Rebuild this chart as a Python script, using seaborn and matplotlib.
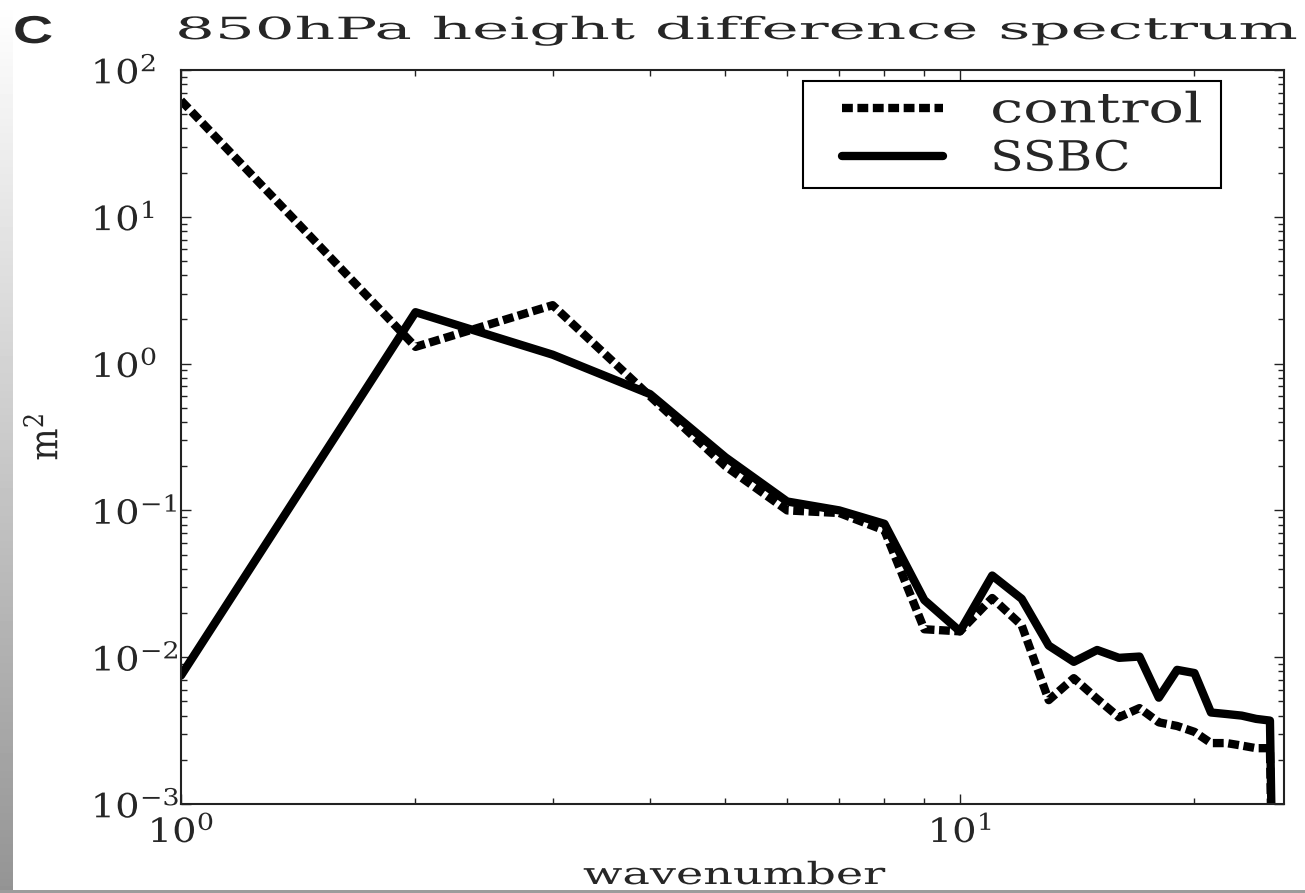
import numpy as np
import pandas as pd
import matplotlib
matplotlib.use("Agg")
import matplotlib.pyplot as plt
import seaborn as sns
from matplotlib.patheffects import AbstractPathEffect
from matplotlib.transforms import Affine2D
from matplotlib.lines import Line2D
from matplotlib.legend_handler import HandlerLine2D
from matplotlib.ticker import NullFormatter
from matplotlib.patches import Rectangle

sns.set_theme(style="ticks")
plt.rcParams["font.family"] = ["DejaVu Serif"]
plt.rcParams["mathtext.fontset"] = "dejavuserif"

# wavenumber spectrum values (m^2)
WAVENUMBER = list(range(1, 27))
CONTROL = [62.0, 1.30, 2.50, 0.60, 0.20, 0.100, 0.096, 0.073, 0.0155, 0.0150,
           0.0253, 0.0165, 0.0051, 0.0072, 0.0052, 0.0039, 0.0045, 0.0036,
           0.0034, 0.0031, 0.0026, 0.0026, 0.0025, 0.0024, 0.0024, 1e-8]
SSBC = [0.0075, 2.24, 1.15, 0.62, 0.23, 0.115, 0.100, 0.081, 0.0245, 0.0150,
        0.0360, 0.0250, 0.0120, 0.0093, 0.0112, 0.0099, 0.0101, 0.0053,
        0.0082, 0.0078, 0.0042, 0.0041, 0.0040, 0.0038, 0.0037, 1e-8]
LABELS = ["control", "SSBC"]

TITLE = "850hPa height difference spectrum"
XTICKS = [1, 10]
XTICKLABELS = [r"$10^{0}$", r"$10^{1}$"]
YTICKS = [1e-3, 1e-2, 1e-1, 1e0, 1e1, 1e2]
YTICKLABELS = [r"$10^{-3}$", r"$10^{-2}$", r"$10^{-1}$", r"$10^{0}$", r"$10^{1}$", r"$10^{2}$"]

W, H = 1305, 893


class Stretch(AbstractPathEffect):
    """widen text horizontally (the original has very loose lettering)"""

    def __init__(self, sx, anchor="left"):
        super().__init__()
        self.sx = sx
        self.anchor = anchor

    def draw_path(self, renderer, gc, tpath, affine, rgbFace=None):
        xs = tpath.vertices[:, 0]
        if len(xs) == 0:
            return
        x0 = {"left": xs.min(), "center": 0.5 * (xs.min() + xs.max()),
              "right": xs.max()}[self.anchor]
        pre = Affine2D().translate(-x0, 0).scale(self.sx, 1).translate(x0, 0)
        renderer.draw_path(gc, tpath, pre + affine, rgbFace)


def fit(txt, target, anchor, renderer, along="width"):
    bb = txt.get_window_extent(renderer)
    sx = target / (bb.width if along == "width" else bb.height)
    txt.set_path_effects([Stretch(sx, anchor)])
    return sx


fig = plt.figure(figsize=(W / 100, H / 100), dpi=100)
ax = fig.add_axes([181 / W, 1 - 804 / H, 1103 / W, 734 / H])

sns.lineplot(x=WAVENUMBER, y=CONTROL, ax=ax, color="black", lw=6,
             linestyle=(0, (1.3, 0.55)), dash_capstyle="butt",
             label=LABELS[0], legend=False, errorbar=None)
sns.lineplot(x=WAVENUMBER, y=SSBC, ax=ax, color="black", lw=6,
             label=LABELS[1], legend=False, errorbar=None)

ax.set(xscale="log", yscale="log")
ax.set_xlim(1, 26.06)
ax.set_ylim(1e-3, 1e2)
ax.set_xlabel("")
ax.set_ylabel("")
ax.set_xticks(XTICKS, labels=XTICKLABELS)
ax.set_yticks(YTICKS, labels=YTICKLABELS)
ax.xaxis.set_minor_formatter(NullFormatter())
ax.yaxis.set_minor_formatter(NullFormatter())
ax.tick_params(which="both", direction="in", top=True, right=True,
               color="#222222", labelsize=24, width=1.0)
ax.tick_params(which="major", length=7.5)
ax.tick_params(which="minor", length=4)
ax.tick_params(axis="x", pad=8)
ax.tick_params(axis="y", pad=65)
for lbl in ax.get_yticklabels():
    lbl.set_horizontalalignment("left")
for sp in ax.spines.values():
    sp.set_linewidth(1.5)
    sp.set_color("#222222")

leg = ax.legend(handles=ax.get_lines()[:2], labels=LABELS,
                loc="upper left", bbox_to_anchor=(0.564, 0.8406, 0.379, 0.1444),
                mode="expand", borderaxespad=0, fontsize=30, borderpad=0.2,
                labelspacing=0.15, handlelength=3.16, handletextpad=1.13,
                handler_map={Line2D: HandlerLine2D(xpad=0.74)},
                frameon=True, fancybox=False, framealpha=1, edgecolor="black")
leg.get_frame().set_linewidth(1.5)

title = fig.text(175 / W, 1 - 39 / H, TITLE, ha="left", va="baseline", fontsize=22)
panel = fig.text(13 / W, 1 - 43 / H, "C", ha="left", va="baseline", fontsize=28,
                 fontweight="bold", family=["Liberation Sans", "DejaVu Sans"])
xlab = fig.text(734 / W, 1 - 884 / H, "wavenumber", ha="center", va="baseline", fontsize=22)
ylab = fig.text(46 / W, 1 - 437 / H, r"$\mathrm{m}^{2}$", rotation=90,
                ha="center", va="center", fontsize=28)

# grey scan edges on the left and bottom
strip = fig.add_axes([0, 0, 13 / W, 1])
strip.imshow(np.linspace(1.0, 0.58, 256)[:, None], cmap="gray", vmin=0, vmax=1,
             aspect="auto")
strip.set_axis_off()
fig.add_artist(Rectangle((0, 0), 1, 3.5 / H, transform=fig.transFigure,
                         facecolor="#9c9c9c", edgecolor="none", zorder=10))

fig.canvas.draw()
r = fig.canvas.get_renderer()
fit(title, 1122, "left", r)
fit(panel, 40, "left", r)
fit(xlab, 302, "center", r)
fit(ylab, 47, "center", r, along="height")
fit(leg.get_texts()[0], 213, "left", r)
fit(leg.get_texts()[1], 140, "left", r)

ylbls = ax.get_yticklabels()
sx = 66 / ylbls[-1].get_window_extent(r).width
for lbl in ylbls:
    lbl.set_path_effects([Stretch(sx, "left")])
for lbl in ax.get_xticklabels():
    lbl.set_path_effects([Stretch(sx, "center")])

fig.savefig("out.png", dpi=100)
